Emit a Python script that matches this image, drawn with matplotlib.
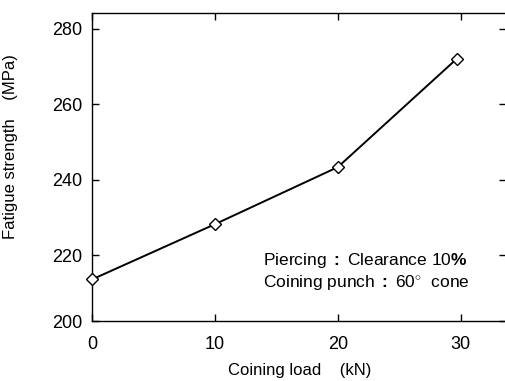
import matplotlib

matplotlib.use("Agg")
import matplotlib.pyplot as plt

# values
coining_load = [0, 10, 20, 29.7]
fatigue_strength = [213.7, 228.3, 243.4, 272.1]
y_bottom = 202.6
y_ticks = [y_bottom, 220, 240, 260, 280]
y_tick_labels = ["200", "220", "240", "260", "280"]
x_ticks = [0, 10, 20, 30]
x_tick_labels = ["0", "10", "20", "30"]

plt.rcParams.update({
    "font.family": ["Liberation Sans", "DejaVu Sans"],
    "mathtext.fontset": "custom",
    "mathtext.rm": "Liberation Sans",
    "mathtext.bf": "Liberation Sans:bold",
    "mathtext.it": "Liberation Sans:italic",
})

fig = plt.figure(figsize=(5.05, 3.81), dpi=100)
ax = fig.add_axes([0.183, 0.157, 0.819, 0.809])

ax.plot(coining_load, fatigue_strength, color="black", linewidth=1.4,
        marker="D", markersize=6.5, markerfacecolor="white",
        markeredgecolor="black", markeredgewidth=1.0, clip_on=False, zorder=3)

ax.set_xlim(0, 33.7)
ax.set_ylim(y_bottom, 284.2)
ax.set_xticks(x_ticks)
ax.set_xticklabels(x_tick_labels)
ax.set_yticks(y_ticks)
ax.set_yticklabels(y_tick_labels)
ax.tick_params(direction="in", length=5, width=1.0, top=True, right=True,
               labelsize=13, colors="black")
ax.tick_params(axis="x", pad=10.5)
ax.tick_params(axis="y", pad=7)
for spine in ax.spines.values():
    spine.set_linewidth(1.0)

ax.set_xlabel("Coining load    (kN)", fontsize=12, labelpad=7.5)
ax.set_ylabel("Fatigue strength    (MPa)", fontsize=12)
ax.yaxis.set_label_coords(-0.179, 0.565)

ax.text(0.412, 0.196, r"Piercing $\mathbf{:}$ Clearance 10$\mathbf{\%}$",
        transform=ax.transAxes, fontsize=12.5, va="center", ha="left")
ax.text(0.412, 0.125, r"Coining punch $\mathbf{:}$ 60$^{\mathbf{\circ}}$  cone",
        transform=ax.transAxes, fontsize=12.5, va="center", ha="left")

fig.savefig("out.png", dpi=100, facecolor="white")
